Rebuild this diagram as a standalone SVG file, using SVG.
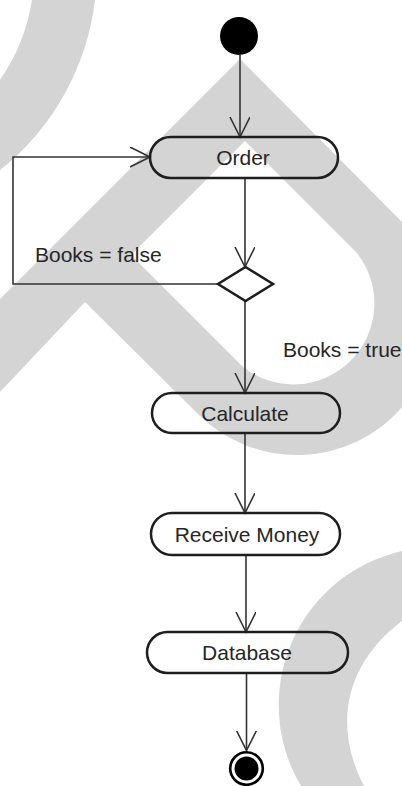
<svg xmlns="http://www.w3.org/2000/svg" width="402" height="786" viewBox="0 0 402 786">
<defs>
<style>
.bg{fill:#d4d4d4;stroke:none}
.node{fill:none;stroke:#1e1e1e;stroke-width:2.5}
.edge{fill:none;stroke:#333;stroke-width:1.6;marker-end:url(#arr)}
.lbl{font-family:"Liberation Sans",Arial,sans-serif;font-size:21px;fill:#262626}
</style>
<marker id="arr" markerUnits="userSpaceOnUse" markerWidth="24" markerHeight="24" refX="20" refY="10" orient="auto">
<path d="M0,0 L20,10 L0,20" fill="none" stroke="#333" stroke-width="1.6"/>
</marker>
</defs>
<rect width="402" height="786" fill="#ffffff"/>
<g id="background">
<path class="bg" d="M32,0 L95,0 A256,256 0 0 1 0,170 L0,80 A194,194 0 0 0 32,0 Z"/>
<path class="bg" fill-rule="evenodd" d="M0,299 L240,59 L402,222 L402,407.6 A140,140 0 0 1 198,414 L85,302 L0,392 Z M131,255 L245,141 L356,252 A81,81 0 0 1 242,366 Z"/>
<path class="bg" d="M402,551 A158,158 0 0 0 301,786 L364,786 C330,720 350,660 402,621 Z"/>
</g>
<g id="connectors">
<path class="edge" d="M240,55 V137"/>
<path class="edge" d="M245,178 V267"/>
<path class="edge" d="M218,284 H13 V157 H150"/>
<path class="edge" d="M245,301 V393"/>
<path class="edge" d="M245,433 V513"/>
<path class="edge" d="M246,555 V632"/>
<path class="edge" d="M246.5,673 V750.5"/>
</g>
<g id="start">
<circle cx="239" cy="36" r="19" fill="#000"/>
</g>
<g id="order">
<rect class="node" x="150" y="137" width="188" height="41" rx="20.5"/>
<text class="lbl" x="243" y="165" text-anchor="middle">Order</text>
</g>
<g id="decision">
<polygon class="node" points="245.5,267 273,284 245.5,301 218,284"/>
</g>
<g id="labels">
<text class="lbl" x="35" y="262">Books = false</text>
<text class="lbl" x="283" y="357">Books = true</text>
</g>
<g id="calculate">
<rect class="node" x="152" y="393" width="188" height="40" rx="20"/>
<text class="lbl" x="245" y="421" text-anchor="middle">Calculate</text>
</g>
<g id="receive">
<rect class="node" x="151" y="513" width="189" height="42" rx="21"/>
<text class="lbl" x="247" y="542" text-anchor="middle">Receive Money</text>
</g>
<g id="database">
<rect class="node" x="147" y="632" width="201" height="41" rx="20.5"/>
<text class="lbl" x="247" y="660" text-anchor="middle">Database</text>
</g>
<g id="end">
<circle cx="246.5" cy="768.5" r="16.3" fill="none" stroke="#000" stroke-width="2.6"/>
<circle cx="246.5" cy="768.5" r="12" fill="#000"/>
</g>
</svg>
